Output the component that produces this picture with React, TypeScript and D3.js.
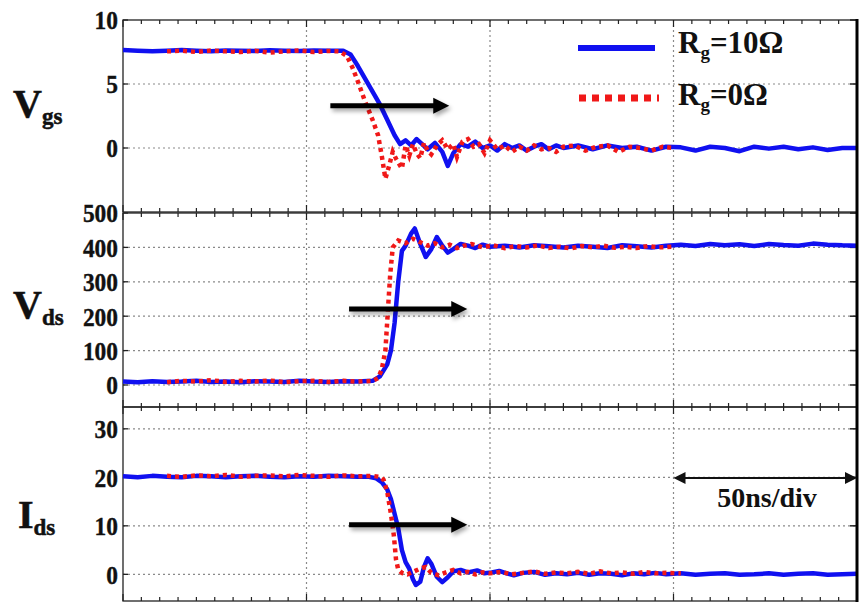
import React from 'react';
import * as d3 from 'd3';

// time axis in ns, 50ns per division
const timeDomain = [0, 200];
const gridTimes = [50, 100, 150];

// Vgs (V)
const vgs10: [number, number][] = [
  [0, 7.65], [4, 7.6], [8, 7.55], [12, 7.6], [16, 7.65], [20, 7.6], [24, 7.55], [28, 7.62], [32, 7.6],
  [36, 7.58], [40, 7.63], [44, 7.6], [48, 7.58], [52, 7.62], [56, 7.6], [60, 7.6], [62, 7.3], [64, 6.4],
  [66, 5.4], [68, 4.4], [70, 3.4], [72, 2.2], [74, 1.0], [75.5, 0.3], [77, 0.6], [78.5, 0.2], [80, 0.7],
  [81.5, 0.3], [83, -0.1], [85, 0.4], [87, -0.3], [88.5, -1.4], [90, -0.4], [92, 0.3], [94, 0.1], [96, 0.5],
  [98, 0.0], [100, 0.2], [102, -0.2], [104, 0.3], [106, 0.0], [108, 0.2], [110, -0.2], [112, 0.1], [114, 0.3],
  [116, -0.1], [118, 0.2], [120, 0.0], [124, 0.2], [128, -0.1], [132, 0.2], [136, 0.0], [140, 0.1], [144, -0.2],
  [148, 0.1], [152, 0.05], [156, -0.2], [160, 0.1], [164, 0.0], [168, -0.25], [172, 0.1], [176, -0.05],
  [180, 0.1], [184, -0.1], [188, 0.05], [192, -0.15], [196, 0.0], [200, 0.0],
];
const vgs0: [number, number][] = [
  [12, 7.55], [16, 7.6], [20, 7.5], [24, 7.62], [28, 7.55], [32, 7.5], [36, 7.6], [40, 7.45], [44, 7.55],
  [48, 7.62], [52, 7.5], [56, 7.58], [59, 7.55], [61, 7.2], [62.5, 6.3], [64, 5.2], [66, 3.6], [68, 2.2],
  [69.5, 1.0], [70.5, -0.6], [71.5, -2.4], [72.5, -1.4], [73.5, -0.3], [74.5, -0.9], [76, -1.6], [77, 0.2],
  [78, -0.6], [79, 0.3], [80, -0.4], [81, -0.8], [82, 0.4], [83, -0.2], [84, -0.5], [85.5, 0.2], [87, 0.6],
  [88.5, -0.1], [90, 0.3], [91, -0.7], [92.5, 0.5], [94, 0.7], [95.5, 0.1], [97, 0.3], [98.5, -0.4],
  [100, 0.6], [102, -0.1], [104, 0.2], [106, -0.3], [108, 0.1], [110, -0.2], [112, 0.2], [114, -0.1],
  [116, 0.0], [118, -0.3], [120, 0.1], [123, 0.2], [126, -0.2], [129, 0.1], [132, 0.2], [135, -0.3],
  [138, 0.1], [141, 0.0], [144, -0.2], [147, 0.1], [150, 0.0],
];

// Vds (V)
const vds10: [number, number][] = [
  [0, 10], [4, 8], [8, 11], [12, 9], [16, 10], [20, 12], [24, 9], [28, 10], [32, 8], [36, 11], [40, 10],
  [44, 9], [48, 12], [52, 10], [56, 9], [60, 11], [64, 10], [68, 12], [70, 25], [72, 60], [73, 100],
  [74, 180], [75, 300], [76, 390], [77, 405], [78.5, 440], [79.5, 455], [81, 410], [82.5, 372], [84, 395],
  [85.5, 430], [87, 405], [88.5, 385], [90, 395], [92, 410], [94, 405], [96, 398], [98, 408], [100, 402],
  [104, 405], [108, 400], [112, 406], [116, 403], [120, 400], [124, 405], [128, 402], [132, 398],
  [136, 406], [140, 403], [144, 400], [148, 405], [152, 408], [156, 404], [160, 410], [164, 406],
  [168, 409], [172, 404], [176, 410], [180, 407], [184, 405], [188, 411], [192, 408], [196, 406], [200, 405],
];
const vds0: [number, number][] = [
  [12, 8], [16, 12], [20, 10], [24, 14], [28, 9], [32, 12], [36, 10], [40, 13], [44, 8], [48, 11],
  [52, 12], [56, 9], [60, 12], [64, 10], [68, 12], [69.5, 20], [70.5, 45], [71.5, 100], [72.2, 220],
  [72.8, 320], [73.5, 400], [75, 420], [77, 412], [79, 425], [81, 415], [83, 405], [85, 412], [87, 400],
  [89, 408], [91, 398], [93, 405], [95, 410], [98, 400], [101, 406], [104, 398], [107, 404], [110, 400],
  [113, 406], [116, 398], [119, 402], [122, 397], [125, 404], [128, 400], [131, 405], [134, 399],
  [137, 402], [140, 398], [143, 404], [146, 400], [150, 402],
];

// Ids (A)
const ids10: [number, number][] = [
  [0, 20.2], [4, 20.0], [8, 20.3], [12, 20.1], [16, 20.0], [20, 20.3], [24, 20.2], [28, 20.0], [32, 20.2],
  [36, 20.3], [40, 20.1], [44, 20.0], [48, 20.2], [52, 20.1], [56, 20.3], [60, 20.2], [64, 20.1], [67, 20.1],
  [69, 19.8], [70.5, 19.0], [72, 17.5], [73, 15.5], [74, 12.5], [75, 9.5], [76, 5], [77, 2.5], [78, 1.2],
  [79, -1.0], [79.8, -2.2], [81, -1.5], [82, 1.5], [83, 3.3], [84, 2.2], [85.5, -0.5], [87, -1.6],
  [88.5, -0.6], [90, 0.6], [92, 0.9], [94, 0.4], [96.5, 0.8], [98.5, 0.2], [100.5, 0.4], [102.5, 0.7],
  [104.5, 0.2], [106.5, -0.2], [109, 0.3], [112, 0.5], [115, -0.1], [118, 0.2], [121, 0.0], [124, 0.3],
  [127, -0.1], [130, 0.2], [133, 0.1], [136, -0.2], [139, 0.2], [142, 0.0], [145, 0.3], [148, 0.0],
  [152, 0.2], [156, -0.1], [160, 0.1], [164, 0.2], [168, -0.1], [172, 0.0], [176, 0.2], [180, -0.1],
  [184, 0.1], [188, 0.2], [192, -0.1], [196, 0.0], [200, 0.1],
];
const ids0: [number, number][] = [
  [12, 20.3], [16, 20.1], [20, 20.4], [24, 20.2], [28, 20.5], [32, 20.1], [36, 20.3], [40, 20.4],
  [44, 20.2], [48, 20.5], [52, 20.3], [56, 20.1], [60, 20.4], [64, 20.2], [68, 20.3], [70, 20.1],
  [71, 19.5], [72, 17], [73, 12.5], [73.8, 8], [74.4, 3], [75, 1.0], [76, 0.3], [77.5, 0.0], [79, 0.5],
  [81, 1.2], [82.5, 1.5], [84, 0.3], [86, -0.2], [88, 0.4], [90, 0.9], [92, 0.2], [94, 0.5], [96, 0.0],
  [98, 0.4], [100, 0.2], [103, 0.5], [106, 0.0], [109, 0.3], [112, 0.6], [115, 0.1], [118, 0.4],
  [121, 0.2], [124, 0.5], [127, 0.1], [130, 0.6], [133, 0.2], [136, 0.4], [139, 0.1], [142, 0.5],
  [145, 0.2], [148, 0.3], [152, 0.2],
];

const panels = [
  { name: 'V', sub: 'gs', domain: [-5, 10], ticks: [0, 5, 10], a: vgs10, b: vgs0, arrow: [56.5, 88.9, 3.3] },
  { name: 'V', sub: 'ds', domain: [-64, 500], ticks: [0, 100, 200, 300, 400, 500], a: vds10, b: vds0, arrow: [61.6, 93.8, 221] },
  { name: 'I', sub: 'ds', domain: [-5.5, 34.5], ticks: [0, 10, 20, 30], a: ids10, b: ids0, arrow: [61.6, 93.8, 10.2] },
];
const legendLabels = ['10Ω', '0Ω'];

const L = 123, R = 857;
const bands = [[20, 212], [213, 407], [407, 601]];
const labelY = [117, 318, 528];
const font = '"Liberation Serif", "Times New Roman", serif';

export default function App() {
  const x = d3.scaleLinear().domain(timeDomain).range([L, R]);
  const minor = d3.range(timeDomain[0], timeDomain[1] + 0.1, 5);

  return (
    <svg width={865} height={605} style={{ position: 'absolute', left: 0, top: 0, background: '#fff' }}
      fontFamily={font} fontWeight="bold">
      <defs>
        <filter id="sh" x="-10%" y="-50%" width="130%" height="250%">
          <feDropShadow dx="2" dy="3" stdDeviation="2" floodColor="#000" floodOpacity="0.35" />
        </filter>
      </defs>
      {panels.map((p, i) => {
        const [top, bot] = bands[i];
        const y = d3.scaleLinear().domain(p.domain).range([bot, top]);
        const line = d3.line<[number, number]>().x(d => x(d[0])).y(d => y(d[1]));
        const [a0, a1, ay] = p.arrow;
        return (
          <g key={i}>
            {p.ticks.filter(t => y(t) > top + 2).map(t => (
              <line key={'h' + t} x1={L} x2={R} y1={y(t)} y2={y(t)} stroke="#8a8a8a" strokeWidth={1.2} strokeDasharray="2,3" />
            ))}
            {gridTimes.map(t => (
              <line key={'v' + t} x1={x(t)} x2={x(t)} y1={top} y2={bot} stroke="#8a8a8a" strokeWidth={1.2} strokeDasharray="2,3" />
            ))}
            <rect x={L} y={top} width={R - L} height={bot - top} fill="none" stroke="#222" strokeWidth={1.3} />
            {minor.map(t => {
              const len = t % 50 === 0 ? 7 : 4;
              return (
                <g key={'m' + t} stroke="#222" strokeWidth={1.2}>
                  <line x1={x(t)} x2={x(t)} y1={top} y2={top + len} />
                  <line x1={x(t)} x2={x(t)} y1={bot} y2={bot - len} />
                </g>
              );
            })}
            {p.ticks.map(t => (
              <g key={'t' + t}>
                <line x1={L} x2={L + 5} y1={y(t)} y2={y(t)} stroke="#222" strokeWidth={1.3} />
                <line x1={R} x2={R - 7} y1={y(t)} y2={y(t)} stroke="#222" strokeWidth={1.5} />
                <text transform={`translate(118,${y(t)}) scale(0.9,1)`} dy="0.36em" textAnchor="end"
                  fontSize={26} fill="#111" stroke="#111" strokeWidth={0.4}>{t}</text>
              </g>
            ))}
            <path d={line(p.a) ?? ''} fill="none" stroke="#1010f0" strokeWidth={4.5} strokeLinejoin="round" />
            <path d={line(p.b) ?? ''} fill="none" stroke="#f01818" strokeWidth={4.5} strokeDasharray="4,4" />
            <g filter="url(#sh)">
              <line x1={x(a0)} x2={x(a1) - 14} y1={y(ay)} y2={y(ay)} stroke="#000" strokeWidth={5} />
              <path d={`M${x(a1)},${y(ay)} L${x(a1) - 16},${y(ay) - 8} L${x(a1) - 16},${y(ay) + 8} Z`} fill="#000" />
            </g>
            <text x={i === 2 ? 18 : 13} y={labelY[i]} fontSize={40} fill="#111" stroke="#111" strokeWidth={0.5}>
              {p.name}
              <tspan fontSize={23} dy={7}>{p.sub}</tspan>
            </text>
          </g>
        );
      })}
      <line x1={R} x2={R} y1={19} y2={602} stroke="#000" strokeWidth={3} />

      {/* legend */}
      <line x1={578} x2={655} y1={48} y2={48} stroke="#1010f0" strokeWidth={6} />
      <line x1={579} x2={659} y1={98} y2={98} stroke="#f01818" strokeWidth={7} strokeDasharray="7,6" />
      {legendLabels.map((lab, i) => (
        <text key={lab} x={678} y={i === 0 ? 53 : 105} fontSize={31} fill="#111">
          R<tspan fontSize={19} dy={6}>g</tspan><tspan dy={-6}>={lab}</tspan>
        </text>
      ))}

      {/* 50ns/div marker */}
      <line x1={x(150) + 8} x2={R - 10} y1={478} y2={478} stroke="#111" strokeWidth={2} />
      <path d={`M${x(150)},478 L${x(150) + 12},472 L${x(150) + 12},484 Z`} fill="#111" />
      <path d={`M${R},478 L${R - 12},472 L${R - 12},484 Z`} fill="#111" />
      <text x={767} y={507} textAnchor="middle" fontSize={28} fill="#111">50ns/div</text>
    </svg>
  );
}
